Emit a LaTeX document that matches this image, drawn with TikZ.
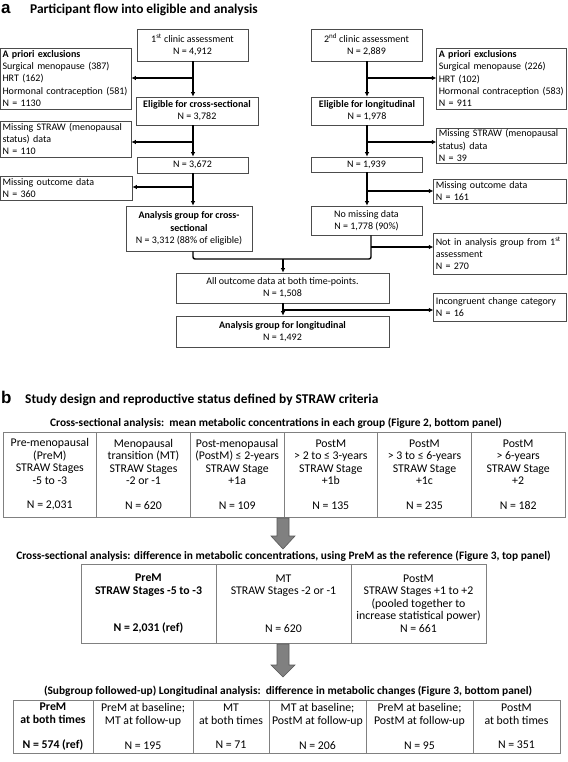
\documentclass[tikz,border=0pt]{standalone}
\usepackage{fontspec}
\setmainfont{Carlito}
\newfontfamily\arialf{Liberation Sans}
\usetikzlibrary{arrows.meta}
\newcommand\fsA{\fontsize{10}{12.2}\selectfont}
\newcommand\fsT{\fontsize{11.8}{12.4}\selectfont}
\newcommand\fsH{\fontsize{13.4}{15}\selectfont\bfseries}
\newcommand\fsS{\fontsize{11.4}{13}\selectfont\bfseries}
\begin{document}
\begin{tikzpicture}[x=1pt,y=-1pt,
  abox/.style={draw=black!70, line width=0.7pt, inner xsep=2pt, inner ysep=0pt, align=center, font=\fsA},
  lbox/.style={abox, align=left},
  conn/.style={line width=1.4pt, black},
  arr/.style={conn, -{Latex[length=4.5pt,width=4.5pt]}},
  tcell/.style={draw=black!50, line width=0.9pt, inner sep=0pt, align=center, font=\fsT},
  blockarr/.style={fill=black!50, draw=black!65, line width=0.6pt},
  ttl/.style={anchor=base west, inner sep=0pt, font=\fsH},
  lett/.style={anchor=base west, inner sep=0pt, font=\arialf\bfseries\fontsize{17}{17}\selectfont},
  sub/.style={inner sep=0pt, font=\fsS}]
\useasboundingbox (0,0) rectangle (567,762);
\fill[white] (0,0) rectangle (567,762);

% ---------- panel a ----------
\node[lett] (la) at (1,13.5) {a};
\node[ttl] (ta) at (30,13.5) {Participant flow into eligible and analysis};

% left column
\node[abox, minimum width=111, minimum height=32] (n1) at (192.5,45) {1\textsuperscript{st} clinic assessment\\N = 4,912};
\node[lbox, text width=126.5, minimum height=61] (ex1) at (65.75,78.5) {\textbf{A priori exclusions}\\Surgical menopause (387)\\HRT (162)\\Hormonal contraception (581)\\N = 1130};
\node[abox, minimum width=122, minimum height=28] (e1) at (197,111) {\textbf{Eligible for cross-sectional}\\N = 3,782};
\node[lbox, text width=126.5, minimum height=36] (ms1) at (65.75,139) {Missing STRAW (menopausal\\status) data\\N = 110};
\node[abox, minimum width=111, minimum height=16] (c1) at (192.5,165) {N = 3,672};
\node[lbox, text width=127.5, minimum height=24] (mo1) at (66.25,188) {Missing outcome data\\N = 360};
\node[abox, minimum width=126, minimum height=45] (ag1) at (189,228.5) {\textbf{Analysis group for cross-}\\\textbf{sectional}\\N = 3,312 (88\% of eligible)};

% right column
\node[abox, minimum width=111, minimum height=32] (n2) at (366.5,45) {2\textsuperscript{nd} clinic assessment\\N = 2,889};
\node[lbox, text width=125.5, minimum height=61] (ex2) at (501.5,78.5) {\textbf{A priori exclusions}\\Surgical menopause (226)\\HRT (102)\\Hormonal contraception (583)\\N = 911};
\node[abox, minimum width=112, minimum height=28] (e2) at (367,111) {\textbf{Eligible for longitudinal}\\N = 1,978};
\node[lbox, text width=125.5, minimum height=35] (ms2) at (501.5,145.5) {Missing STRAW (menopausal\\status) data\\N = 39};
\node[abox, minimum width=111, minimum height=15] (c2) at (366.5,164.5) {N = 1,939};
\node[lbox, text width=128.5, minimum height=24] (mo2) at (500,191) {Missing outcome data\\N = 161};
\node[abox, minimum width=111, minimum height=29] (nm2) at (366.5,220.5) {No missing data\\N = 1,778 (90\%)};
\node[lbox, text width=128.5, minimum height=41] (na2) at (500,253.5) {Not in analysis group from 1\textsuperscript{st}\\assessment\\N = 270};

% bottom
\node[abox, minimum width=213, minimum height=30] (all) at (282.5,288) {All outcome data at both time-points.\\N = 1,508};
\node[lbox, text width=128.5, minimum height=28] (inc) at (500,307) {Incongruent change category\\N = 16};
\node[abox, minimum width=213, minimum height=31] (agl) at (282.5,331.5) {\textbf{Analysis group for longitudinal}\\N = 1,492};

% connector guide coordinates
\coordinate (La) at (193,0);
\coordinate (Ra) at (367,0);
\coordinate (Rb) at (371,0);
\coordinate (J) at (283,259);
\coordinate (b1) at (193,78);
\coordinate (b2) at (193,142);
\coordinate (b3) at (193,187);
\coordinate (b4) at (367,78);
\coordinate (b5) at (367,142);
\coordinate (b6) at (367,191);
\coordinate (b7) at (371,247);
\coordinate (b8) at (283,310);

\draw[arr] (n1.south -| La) -- (e1.north -| La);
\draw[arr] (b1) -- (b1 -| ex1.east);
\draw[arr] (e1.south -| La) -- (c1.north -| La);
\draw[arr] (b2) -- (b2 -| ms1.east);
\draw[arr] (c1.south -| La) -- (ag1.north -| La);
\draw[arr] (b3) -- (b3 -| mo1.east);

\draw[arr] (n2.south -| Ra) -- (e2.north -| Ra);
\draw[arr] (b4) -- (b4 -| ex2.west);
\draw[arr] (e2.south -| Ra) -- (c2.north -| Ra);
\draw[arr] (b5) -- (b5 -| ms2.west);
\draw[arr] (c2.south -| Ra) -- (nm2.north -| Ra);
\draw[arr] (b6) -- (b6 -| mo2.west);

\draw[conn, rounded corners=2pt] (ag1.south -| La) |- (J -| Rb) -- (nm2.south -| Rb);
\draw[arr] (b7) -- (b7 -| na2.west);
\draw[arr] (J) -- (all.north -| J);
\draw[arr] (all.south -| b8) -- (agl.north -| b8);
\draw[arr] (b8) -- (b8 -| inc.west);

% ---------- panel b ----------
\node[lett] (lb) at (1,403) {b};
\node[ttl] (tb) at (25,403) {Study design and reproductive status defined by STRAW criteria};

\node[sub] (s1) at (276,423) {Cross-sectional analysis:\ \ mean metabolic concentrations in each group (Figure 2, bottom panel)};

\node[tcell, minimum width=93.67, minimum height=85] (t11) at (49.83,474.5) {Pre-menopausal\\(PreM)\\STRAW Stages\\-5 to -3\\[12.4pt]N = 2,031};
\node[tcell, minimum width=93.67, minimum height=85] (t12) at (143.5,474.5) {Menopausal\\transition (MT)\\STRAW Stages\\-2 or -1\\[12.4pt]N = 620};
\node[tcell, minimum width=93.67, minimum height=85] (t13) at (237.17,474.5) {Post-menopausal\\(PostM) ≤ 2-years\\STRAW Stage\\+1a\\[12.4pt]N = 109};
\node[tcell, minimum width=93.67, minimum height=85] (t14) at (330.83,474.5) {PostM\\> 2 to ≤ 3-years\\STRAW Stage\\+1b\\[12.4pt]N = 135};
\node[tcell, minimum width=93.67, minimum height=85] (t15) at (424.5,474.5) {PostM\\> 3 to ≤ 6-years\\STRAW Stage\\+1c\\[12.4pt]N = 235};
\node[tcell, minimum width=93.67, minimum height=85] (t16) at (518.17,474.5) {PostM\\> 6-years\\STRAW Stage\\+2\\[12.4pt]N = 182};

\coordinate (A1) at (283,518);
\draw[blockarr] (A1) ++(-6,0) -- ++(12,0) -- ++(0,18) -- ++(6,0) -- ++(-12,13) -- ++(-12,-13) -- ++(6,0) -- cycle;

\node[sub] (s2) at (283.5,556) {Cross-sectional analysis: difference in metabolic concentrations, using PreM as the reference (Figure 3, top panel)};

\node[tcell, minimum width=135, minimum height=79] (t21) at (148.5,603.5) {\textbf{PreM}\\\textbf{STRAW Stages -5 to -3}\\[24.8pt]\textbf{N = 2,031 (ref)}};
\node[tcell, minimum width=135, minimum height=79] (t22) at (283.5,603.5) {MT\\STRAW Stages -2 or -1\\[24.8pt]N = 620};
\node[tcell, minimum width=135, minimum height=79] (t23) at (418.5,603.5) {PostM\\STRAW Stages +1 to +2\\(pooled together to\\increase statistical power)\\N = 661};

\coordinate (A2) at (283,644);
\draw[blockarr] (A2) ++(-6,0) -- ++(12,0) -- ++(0,21) -- ++(6,0) -- ++(-12,12) -- ++(-12,-12) -- ++(6,0) -- cycle;

\node[sub] (s3) at (288,691) {(Subgroup followed-up) Longitudinal analysis:\ \ difference in metabolic changes (Figure 3, bottom panel)};

\node[tcell, minimum width=80, minimum height=53] (t31) at (53,726.5) {\textbf{PreM}\\\textbf{at both times}\\[12.4pt]\textbf{N = 574 (ref)}};
\node[tcell, minimum width=100, minimum height=53] (t32) at (143,726.5) {PreM at baseline;\\MT at follow-up\\[12.4pt]N = 195};
\node[tcell, minimum width=76, minimum height=53] (t33) at (231,726.5) {MT\\at both times\\[12.4pt]N = 71};
\node[tcell, minimum width=97, minimum height=53] (t34) at (317.5,726.5) {MT at baseline;\\PostM at follow-up\\[12.4pt]N = 206};
\node[tcell, minimum width=107, minimum height=53] (t35) at (419.5,726.5) {PreM at baseline;\\PostM at follow-up\\[12.4pt]N = 95};
\node[tcell, minimum width=87, minimum height=53] (t36) at (516.5,726.5) {PostM\\at both times\\[12.4pt]N = 351};
\end{tikzpicture}
\end{document}
